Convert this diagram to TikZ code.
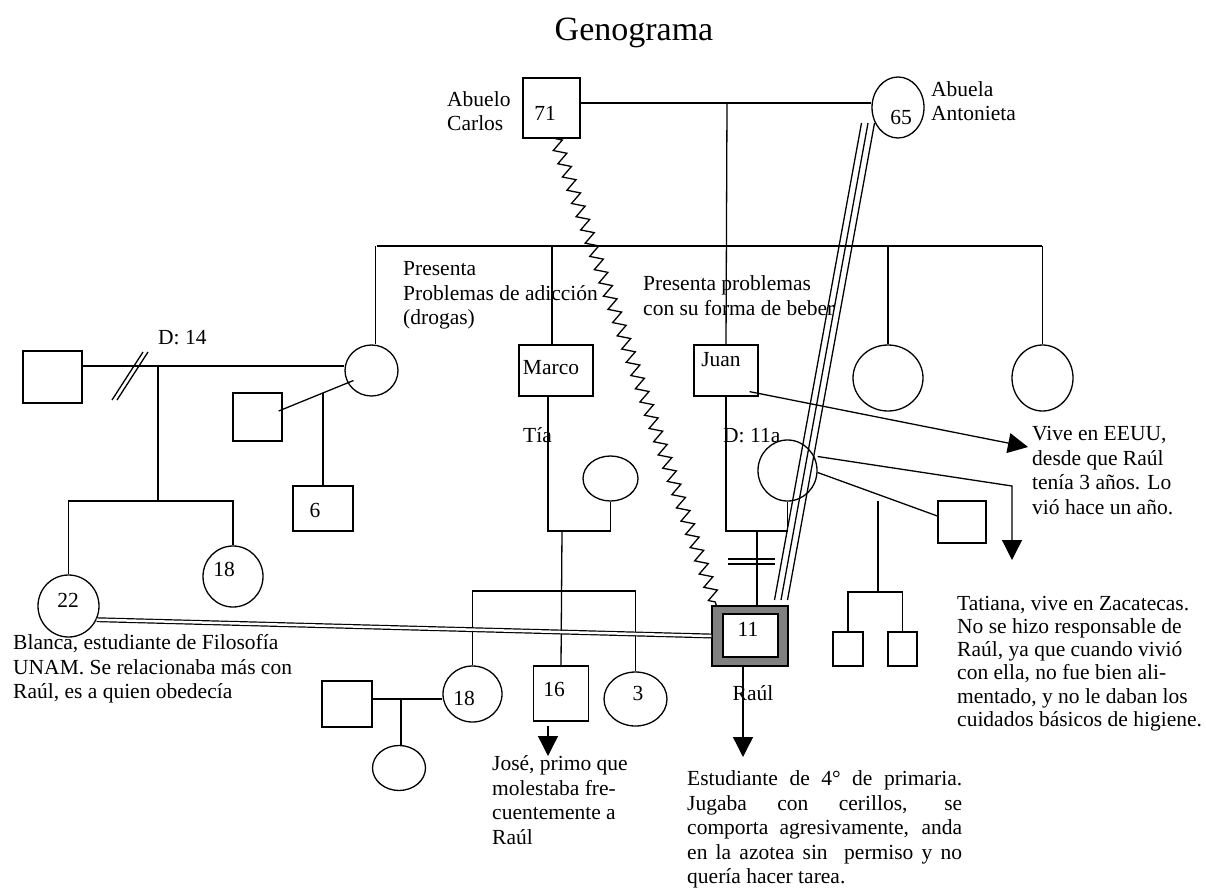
\documentclass[tikz,border=0pt]{standalone}
\usepackage{fontspec}
\setmainfont{Liberation Serif}
\usetikzlibrary{shapes.geometric,arrows.meta,decorations.pathmorphing,calc}
\newcommand\gfont{\fontsize{21.5pt}{24.5pt}\selectfont}
\begin{document}
\begin{tikzpicture}[x=1pt,y=-1pt,
  ln/.style={line width=1.3pt},
  sq/.style={draw,line width=1.3pt,rectangle,inner sep=0pt},
  ci/.style={draw,line width=1.3pt,ellipse,inner sep=0pt},
  tx/.style={inner sep=0pt,font=\gfont},
  note/.style={inner sep=0pt,align=left,font=\gfont,anchor=base west},
  arr/.style={line width=1.3pt,-{Triangle[length=20pt,width=20pt]}},
  zz/.style={line width=1.3pt,decorate,decoration={zigzag,segment length=14pt,amplitude=6pt}}]

\fill[white] (0,0) rectangle (1206,888);
\useasboundingbox (0,0) rectangle (1206,888);

\node[font=\fontsize{34pt}{38pt}\selectfont] (title) at (634,33) {Genograma};

% grandparents
\node[sq,minimum width=57pt,minimum height=60pt] (gf) at (551.5,108) {};
\node[tx] (gft) at (545,113) {71};
\node[ci,minimum width=52pt,minimum height=61pt] (gm) at (898,107.5) {};
\node[tx] (gmt) at (901,117) {65};
% multi-line notes are placed by the baseline of their last line
\node[note] (gfn) at (447,130.5) {Abuelo\\Carlos};
\node[note] (gmn) at (931,121) {Abuela\\Antonieta};
\coordinate (gpj) at (727,103);
\draw[ln] (gf.east |- gpj) -- (gm.west |- gpj);

% children of the grandparents
\coordinate (sibL) at (377,246);
\coordinate (sibR) at (1042,246);
\draw[ln] (sibL) -- (sibR);
\node[ci,minimum width=53pt,minimum height=51pt] (aunt) at (371.5,370.5) {};
\node[sq,minimum width=74pt,minimum height=51pt] (marco) at (556,370.5) {};
\node[tx] (marcot) at (551,368) {Marco};
\node[sq,minimum width=64pt,minimum height=51pt] (juan) at (726,370.5) {};
\node[tx] (juant) at (721,360) {Juan};
\node[ci,minimum width=70pt,minimum height=66pt] (cA) at (888,378) {};
\node[ci,minimum width=61pt,minimum height=66pt] (cB) at (1042.5,378) {};
\draw[ln] (gpj) -- (juan.north);
\draw[ln] ([xshift=4pt]aunt.north |- sibL) -- ([xshift=4pt]aunt.north);
\draw[ln] ([xshift=-4pt]marco.north |- sibL) -- ([xshift=-4pt]marco.north);
\draw[ln] (cA.north |- sibL) -- (cA.north);
\draw[ln] (cB.north |- sibL) -- (cB.north);

\node[note] (n1) at (403,324.5) {Presenta\\Problemas de adicción\\(drogas)};
\node[note] (n2) at (643,315) {Presenta problemas\\con su forma de beber};

% aunt's first marriage (divorced)
\node[sq,minimum width=59pt,minimum height=52pt] (ex) at (52.5,377) {};
\coordinate (d14) at (158,366);
\draw[ln] (ex.east |- d14) -- (aunt.west |- d14);
\coordinate (div) at (130,376);
\draw[ln] ($(div)+(-18,24)$) -- ($(div)+(13,-24)$);
\draw[ln] ($(div)+(-13,24)$) -- ($(div)+(18,-24)$);
\node[tx,anchor=base west] (d14t) at (158,344.5) {D: 14};
\node[ci,minimum width=61pt,minimum height=62pt] (c22) at (68.5,606) {};
\node[tx] (c22t) at (68,600) {22};
\node[ci,minimum width=60pt,minimum height=61pt] (c18a) at (233,576.5) {};
\node[tx] (c18at) at (224,569) {18};
\coordinate (kidsL) at (68.5,501);
\draw[ln] (d14) -- (d14 |- kidsL);
\draw[ln] (c22.north) -- (kidsL) -- (kidsL -| c18a.north) -- (c18a.north);

% aunt's second partner
\node[sq,minimum width=49pt,minimum height=48pt] (p2) at (257.5,417) {};
\node[sq,minimum width=60pt,minimum height=45pt] (box6) at (323,508.5) {};
\node[tx] (box6t) at (315,510) {6};
\draw[ln] ($(p2.east)+(-4,-6)$) -- ($(aunt.center)+(-18,10)$);
\coordinate (p2j) at (323,393);
\draw[ln] (p2j) -- (box6.north);

% Marco's family
\node[tx,anchor=base west] (tia) at (523,442.5) {Tía};
\node[ci,minimum width=55pt,minimum height=45pt] (mw) at (610.5,478.5) {};
\coordinate (mj) at (548,531);
\draw[ln] (mj |- marco.south) -- (mj) -- (mj -| mw.south) -- (mw.south);
\coordinate (cj) at (562,531);
\coordinate (cous) at (562,591);
\node[ci,minimum width=59pt,minimum height=56pt] (c18b) at (472.5,694) {};
\node[tx] (c18bt) at (464,698) {18};
\node[sq,minimum width=55pt,minimum height=55pt] (box16) at (561,693.5) {};
\node[tx] (box16t) at (554,689) {16};
\node[ci,minimum width=63pt,minimum height=54pt] (c3) at (635.5,699) {};
\node[tx] (c3t) at (638,693) {3};
\draw[ln] (cj) -- (box16.north);
\draw[ln] (c18b.north) -- (c18b.north |- cous) -- (c3.north |- cous) -- (c3.north);

% cousin's partner and child
\node[sq,minimum width=50pt,minimum height=46pt] (blsq) at (347,704) {};
\node[ci,minimum width=53pt,minimum height=45pt] (blE) at (399,768) {};
\coordinate (bj) at (401,699);
\draw[ln] (blsq.east |- bj) -- (c18b.west |- bj);
\draw[ln] (bj) -- (bj |- blE.north);

% Juan, Tatiana and Raúl
\node[ci,minimum width=59pt,minimum height=61pt] (tat) at (787.5,470.5) {};
\node[tx,anchor=base west] (d11) at (723,442.5) {D: 11a};
\coordinate (jl) at (726,531);
\draw[ln] (juan.south) -- (jl) -- (jl -| tat.south) -- (tat.south);
\node[sq,fill=black!50,minimum width=76pt,minimum height=60pt] (raul) at (750,636) {};
\node[sq,fill=white,minimum width=55pt,minimum height=43pt] (raulin) at (750.5,635.5) {};
\node[tx] (raulint) at (748,629) {11};
\coordinate (rj) at (757,531);
\draw[ln] (rj) -- (rj |- raul.north);
\coordinate (sep) at (751.5,561.5);
\draw[ln] ($(sep)+(-23.5,-2.5)$) -- ($(sep)+(23.5,-2.5)$);
\draw[ln] ($(sep)+(-23.5,2.5)$) -- ($(sep)+(23.5,2.5)$);
\node[tx] (raulname) at (753,693) {Raúl};

% Tatiana's later family
\node[sq,minimum width=48pt,minimum height=42pt] (tp) at (962,522) {};
\draw[ln] ($(tat.east)+(0,2)$) -- ($(tp.west)+(0,-6)$);
\coordinate (tk) at (878,501);
\coordinate (tkj) at (878,592);
\node[sq,minimum width=30pt,minimum height=34pt] (sb1) at (848,649) {};
\node[sq,minimum width=29pt,minimum height=34pt] (sb2) at (902.5,649) {};
\draw[ln] (tk) -- (tkj);
\draw[ln] (sb1.north) -- (sb1.north |- tkj) -- (sb2.north |- tkj) -- (sb2.north);

% relationship lines
\draw[zz] ([xshift=4pt]gf.south) -- ([xshift=5pt]raul.north west);
\coordinate (tr1) at (868,123);
\coordinate (tr2) at (781,600);
\foreach \d in {-6.5,0,6.5}
  \draw[ln] ([xshift=\d pt]tr1) -- ([xshift=\d pt]tr2);
\draw[ln,double,double distance=2.5pt,line width=1.2pt] (c22.-26) -- (raul.west);

% notes and arrows
\coordinate (vivetip) at (1028,447);
\draw[arr] ($(juan.south east)+(-9,-5)$) -- (vivetip);
\node[note] (vive) at (1032,514) {Vive en EEUU,\\desde que Raúl\\tenía 3 años. Lo\\vió hace un año.};
\coordinate (tatbend) at (1012,486);
\coordinate (tattip) at (1012,560);
\draw[arr] ($(tat.east)+(0,-14)$) -- (tatbend) -- (tattip);
\node[note,font=\fontsize{21.5pt}{23.3pt}\selectfont] (tatn) at (957,726.5) {Tatiana, vive en Zacatecas.\\No se hizo responsable de\\Raúl, ya que cuando vivió\\con ella, no fue bien ali-\\mentado, y no le daban los\\cuidados básicos de higiene.};
\coordinate (rtip) at (743,757);
\draw[arr] ([xshift=-7pt]raul.south) -- (rtip);
\node[note] (estn) at (687,883.5) {\makebox[275pt][s]{Estudiante de 4° de primaria.}\\\makebox[275pt][s]{Jugaba con cerillos, se}\\\makebox[275pt][s]{comporta agresivamente, anda}\\\makebox[275pt][s]{en la azotea sin\ \ permiso y no}\\quería hacer tarea.};
\coordinate (jstart) at (548,726);
\coordinate (jtip) at (548,756);
\draw[arr] (jstart) -- (jtip);
\node[note] (josen) at (492,844) {José, primo que\\molestaba fre-\\cuentemente a\\Raúl};
\node[note] (blancan) at (13,698.5) {Blanca, estudiante de Filosofía\\UNAM. Se relacionaba más con\\Raúl, es a quien obedecía};

\end{tikzpicture}
\end{document}
